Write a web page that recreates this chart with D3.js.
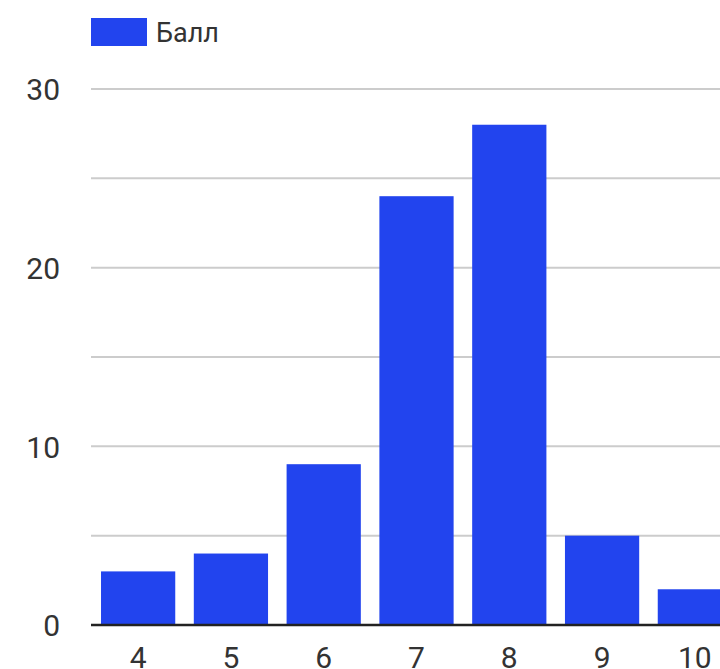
<!DOCTYPE html>
<html>
<head>
<meta charset="utf-8">
<script src="https://cdn.jsdelivr.net/npm/d3@7"></script>
<style>
  html, body { margin: 0; padding: 0; background: #fff; overflow: hidden; }
  svg { display: block; }
  text { font-family: Roboto, "Noto Sans", sans-serif; }
</style>
</head>
<body>
<div id="chart"></div>
<script>
const categories = ["4", "5", "6", "7", "8", "9", "10"];
const values = [3, 4, 9, 24, 28, 5, 2];
const seriesName = "Балл";
const yTicks = [0, 10, 20, 30];
const gridTicks = [0, 5, 10, 15, 20, 25, 30];

const W = 720, H = 669;
const svg = d3.select("#chart").append("svg")
  .attr("width", W).attr("height", H);

const x = d3.scaleBand()
  .domain(categories)
  .range([91, 742])
  .paddingInner(0.2)
  .paddingOuter(0.108);

const y = d3.scaleLinear()
  .domain([0, 30])
  .range([625, 89]);

// gridlines
svg.append("g")
  .selectAll("line")
  .data(gridTicks.filter(d => d !== 0))
  .join("line")
  .attr("x1", 91).attr("x2", W)
  .attr("y1", d => y(d)).attr("y2", d => y(d))
  .attr("stroke", "#cccccc")
  .attr("stroke-width", 2);

// bars
svg.append("g")
  .selectAll("rect")
  .data(values)
  .join("rect")
  .attr("x", (d, i) => x(categories[i]))
  .attr("width", x.bandwidth())
  .attr("y", d => y(d))
  .attr("height", d => y(0) - y(d))
  .attr("fill", "#2244ee");

// baseline
svg.append("line")
  .attr("x1", 91).attr("x2", W)
  .attr("y1", y(0)).attr("y2", y(0))
  .attr("stroke", "#222")
  .attr("stroke-width", 2.5);

// y axis labels
const yAxis = d3.axisLeft(y).tickValues(yTicks).tickSize(0).tickPadding(0);
const gy = svg.append("g").attr("transform", "translate(60,0)").call(yAxis);
gy.select(".domain").remove();
gy.selectAll("text")
  .attr("font-size", 30)
  .attr("font-family", "Roboto, sans-serif")
  .attr("fill", "#333")
  .attr("dy", "0.36em");

// x axis labels
const xAxis = d3.axisBottom(x).tickSize(0).tickPadding(0);
const gx = svg.append("g").attr("transform", "translate(0,647)").call(xAxis);
gx.select(".domain").remove();
gx.selectAll("text")
  .attr("font-size", 30)
  .attr("font-family", "Roboto, sans-serif")
  .attr("fill", "#333")
  .attr("dy", "0.71em");

// legend
const lg = svg.append("g");
lg.append("rect")
  .attr("x", 91).attr("y", 18)
  .attr("width", 56).attr("height", 28)
  .attr("fill", "#2244ee");
lg.append("text")
  .attr("x", 156).attr("y", 32)
  .attr("dy", "0.36em")
  .attr("font-size", 27)
  .attr("fill", "#333")
  .text(seriesName);
</script>
</body>
</html>
